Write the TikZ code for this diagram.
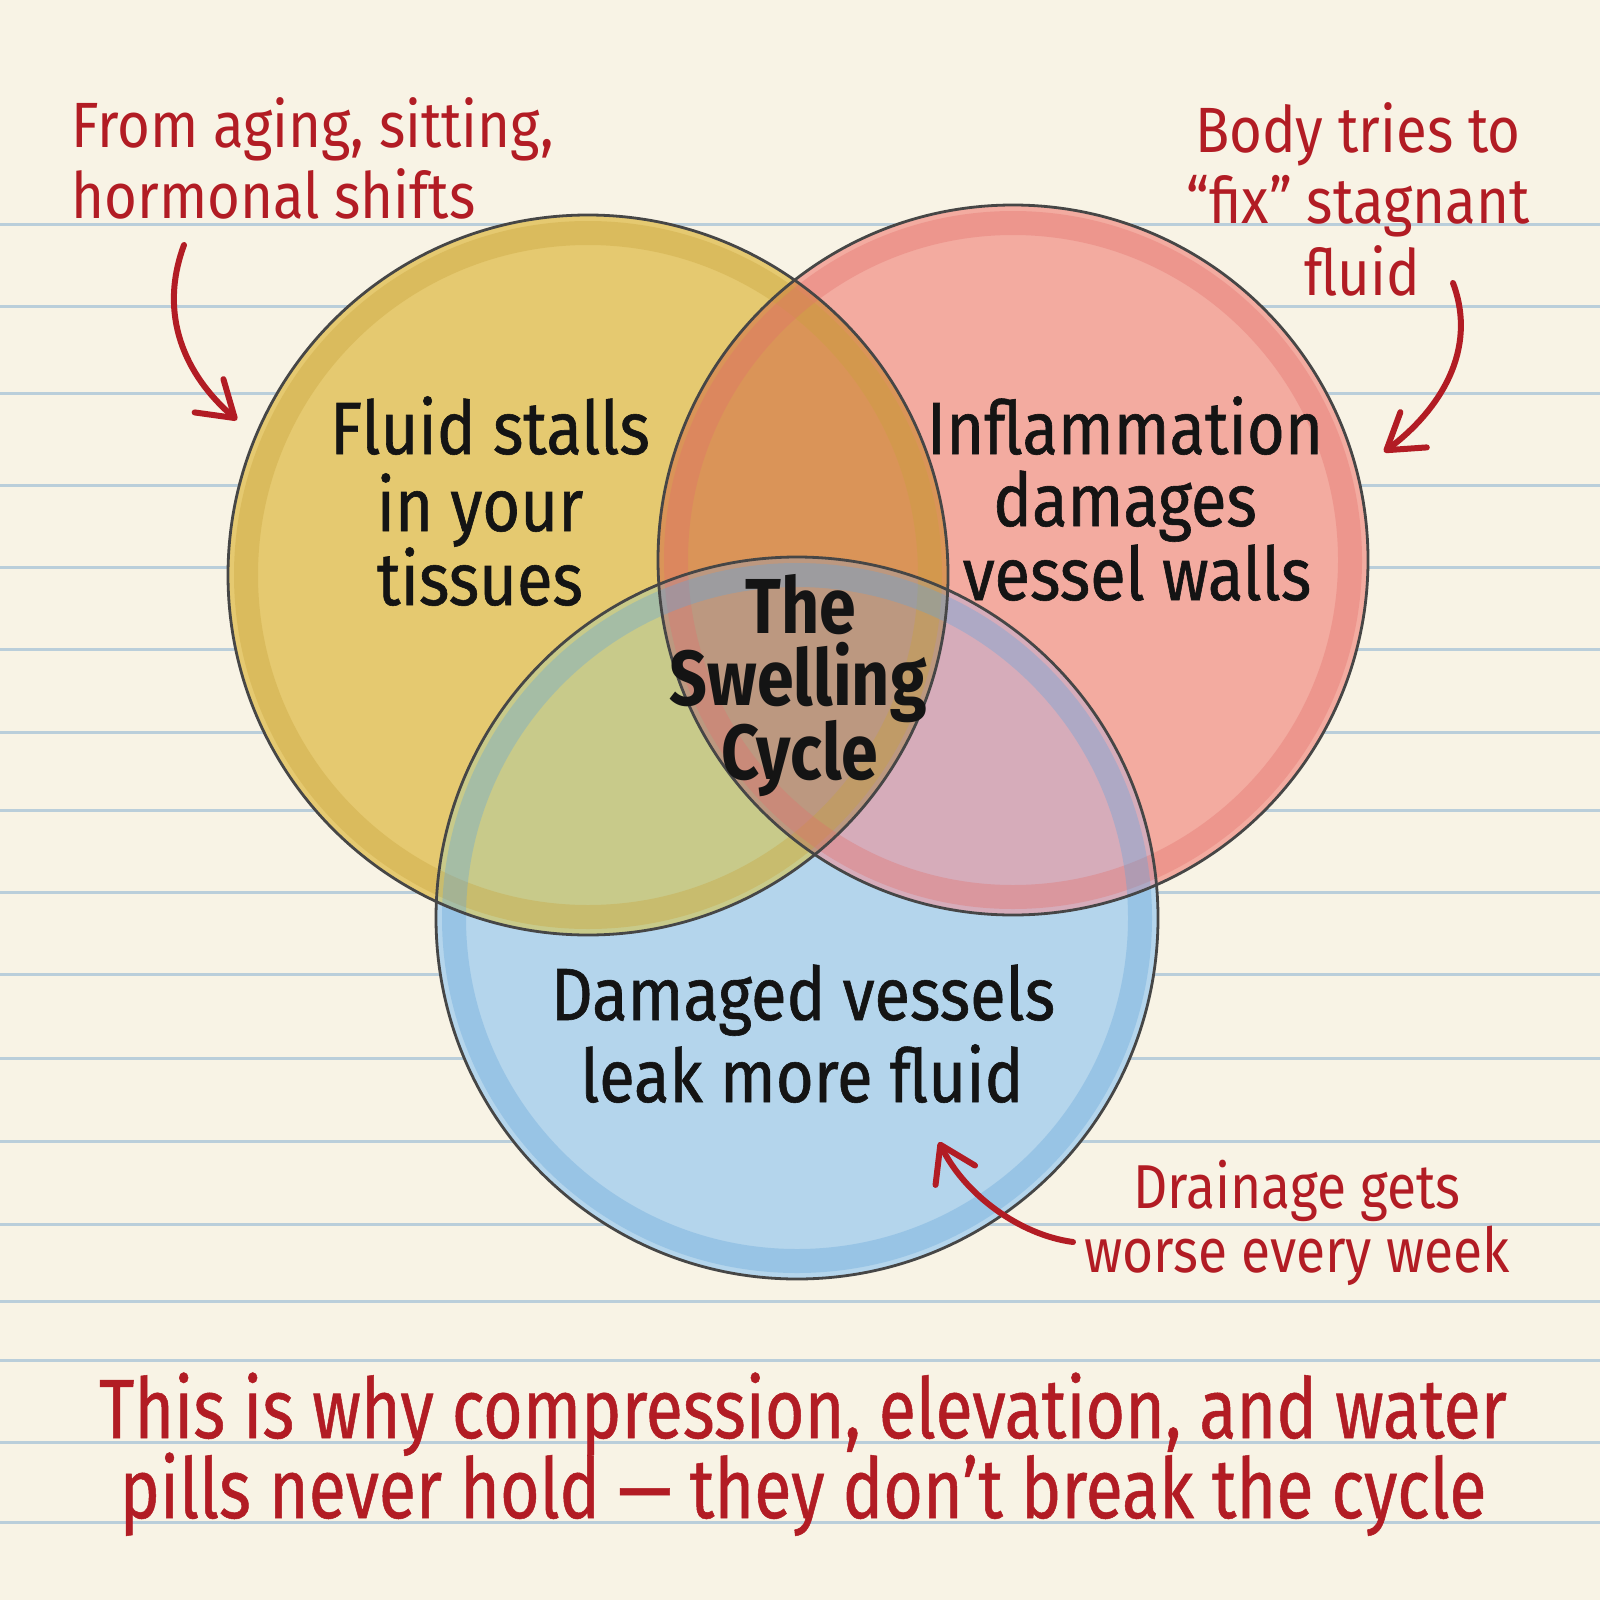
\documentclass[tikz,border=0pt]{standalone}
\usepackage{fontspec}
\usetikzlibrary{arrows.meta}
\newfontfamily\annotfont[FakeStretch=0.88]{Fira Sans}
\newfontfamily\smallannotfont[FakeStretch=0.86]{Fira Sans}
\newfontfamily\bodyfont[FakeStretch=0.88,FakeBold=0.8]{Fira Sans}
\newfontfamily\centrefont[FakeStretch=0.85]{Fira Sans}
\newfontfamily\capfont[FakeStretch=0.81,FakeBold=0.6]{Fira Sans}
\definecolor{paper}{RGB}{248,243,229}
\definecolor{rulecol}{RGB}{186,206,218}
\definecolor{inkred}{RGB}{178,28,36}
\definecolor{yfill}{RGB}{229,201,112}
\definecolor{rfill}{RGB}{243,171,160}
\definecolor{bfill}{RGB}{180,213,236}
\definecolor{yrfill}{RGB}{218,148,88}
\definecolor{ybfill}{RGB}{200,202,138}
\definecolor{rbfill}{RGB}{214,172,186}
\definecolor{yrbfill}{RGB}{188,152,128}
\definecolor{yedge}{RGB}{200,162,58}
\definecolor{redge}{RGB}{226,112,108}
\definecolor{bedge}{RGB}{100,165,218}
\definecolor{pencil}{RGB}{70,70,70}
\tikzset{
  annot/.style={font=\annotfont\fontsize{32}{35}\selectfont, text=inkred, inner sep=0pt},
  smallannot/.style={annot, font=\smallannotfont\fontsize{31}{34}\selectfont},
  bodytext/.style={font=\bodyfont\fontsize{37}{40}\selectfont, text=black!92, inner sep=0pt, anchor=base},
  centretext/.style={font=\centrefont\bfseries\fontsize{39}{40}\selectfont, text=black!92, inner sep=0pt, anchor=base},
  captext/.style={font=\capfont\fontsize{42}{44}\selectfont, text=inkred, inner sep=0pt, anchor=base},
  venn/.style={circle, inner sep=0pt, outer sep=0pt},
  ring/.style={line width=12pt, opacity=0.35},
  outline/.style={draw=pencil, line width=1.4pt},
  redarrow/.style={draw=inkred, line width=3pt, line cap=round, -{Straight Barb[length=17pt,width=22pt,round]}},
  paperrule/.style={draw=rulecol, line width=1.5pt}
}
\begin{document}
\begin{tikzpicture}[x=0.5pt,y=-0.5pt]
\useasboundingbox (0,0) rectangle (1600,1600);
\fill[paper] (0,0) rectangle (1600,1600);
\foreach \yy in {224,306,393,485,567,649,732,810,892,974,1058,1141,1224,1301,1360,1442,1522}
  \draw[paperrule] (0,\yy) -- (1600,\yy);

% circles (single regions)
\node[venn, fill=yfill, minimum size=360pt] (Y) at (588,575) {};
\node[venn, fill=rfill, minimum size=355pt] (R) at (1013,560) {};
\node[venn, fill=bfill, minimum size=361pt] (B) at (797,918) {};
% overlaps
\begin{scope}
  \clip (Y.center) circle[radius=360];
  \fill[yrfill] (R.center) circle[radius=355];
  \fill[ybfill] (B.center) circle[radius=361];
  \clip (R.center) circle[radius=355];
  \fill[yrbfill] (B.center) circle[radius=361];
\end{scope}
\begin{scope}
  \clip (R.center) circle[radius=355];
  \clip (B.center) circle[radius=361];
  \clip (-10,-10) rectangle (1610,1610);
  \fill[rbfill, even odd rule] (B.center) circle[radius=361] (Y.center) circle[radius=360];
\end{scope}
% crayon edge bands
\begin{scope}
  \clip (Y.center) circle[radius=362];
  \draw[ring, yedge] (Y.center) circle[radius=342];
\end{scope}
\begin{scope}
  \clip (R.center) circle[radius=357];
  \draw[ring, redge] (R.center) circle[radius=337];
\end{scope}
\begin{scope}
  \clip (B.center) circle[radius=363];
  \draw[ring, bedge] (B.center) circle[radius=343];
\end{scope}
\draw[outline] (Y.center) circle[radius=360];
\draw[outline] (R.center) circle[radius=355];
\draw[outline] (B.center) circle[radius=361];

% circle texts
\node[bodytext] (y1) at (490,454) {Fluid stalls};
\node[bodytext] (y2) at (480,531) {in your};
\node[bodytext] (y3) at (480,605) {tissues};
\node[bodytext] (r1) at (1125,454) {Inflammation};
\node[bodytext] (r2) at (1125,526) {damages};
\node[bodytext] (r3) at (1137,600) {vessel walls};
\node[bodytext] (b1) at (803,1020) {Damaged vessels};
\node[bodytext] (b2) at (802,1102) {leak more fluid};
\node[centretext] (c1) at (801,633) {The};
\node[centretext] (c2) at (798,705) {Swelling};
\node[centretext] (c3) at (800,779) {Cycle};

% annotations
\node[annot, anchor=base west] (a1l1) at (71,148) {From aging, sitting,};
\node[annot, anchor=base west] (a1l2) at (71,218) {hormonal shifts};
\node[annot, anchor=base] (a2l1) at (1358,152) {Body tries to};
\node[annot, anchor=base] (a2l2) at (1358,223) {“fix” stagnant};
\node[annot, anchor=base] (a2l3) at (1362,295) {fluid};
\node[smallannot, anchor=base] (a3l1) at (1297,1208) {Drainage gets};
\node[smallannot, anchor=base] (a3l2) at (1297,1272) {worse every week};

% arrows
\coordinate (a1s) at (184,245);
\coordinate (a1t) at (237,420);
\coordinate (a2s) at (1453,283);
\coordinate (a2t) at (1384,452);
\coordinate (a3s) at (1073,1242);
\coordinate (a3t) at (939,1142);
\draw[redarrow] (a1s) .. controls (158,315) and (185,375) .. (a1t);
\draw[redarrow] (a2s) .. controls (1478,350) and (1440,410) .. (a2t);
\draw[redarrow] (a3s) .. controls (1020,1235) and (965,1195) .. (a3t);

% caption
\node[captext] (cap1) at (803,1438) {This is why compression, elevation, and water};
\node[captext] (cap2) at (803,1518) {pills never hold — they don’t break the cycle};
\end{tikzpicture}
\end{document}
